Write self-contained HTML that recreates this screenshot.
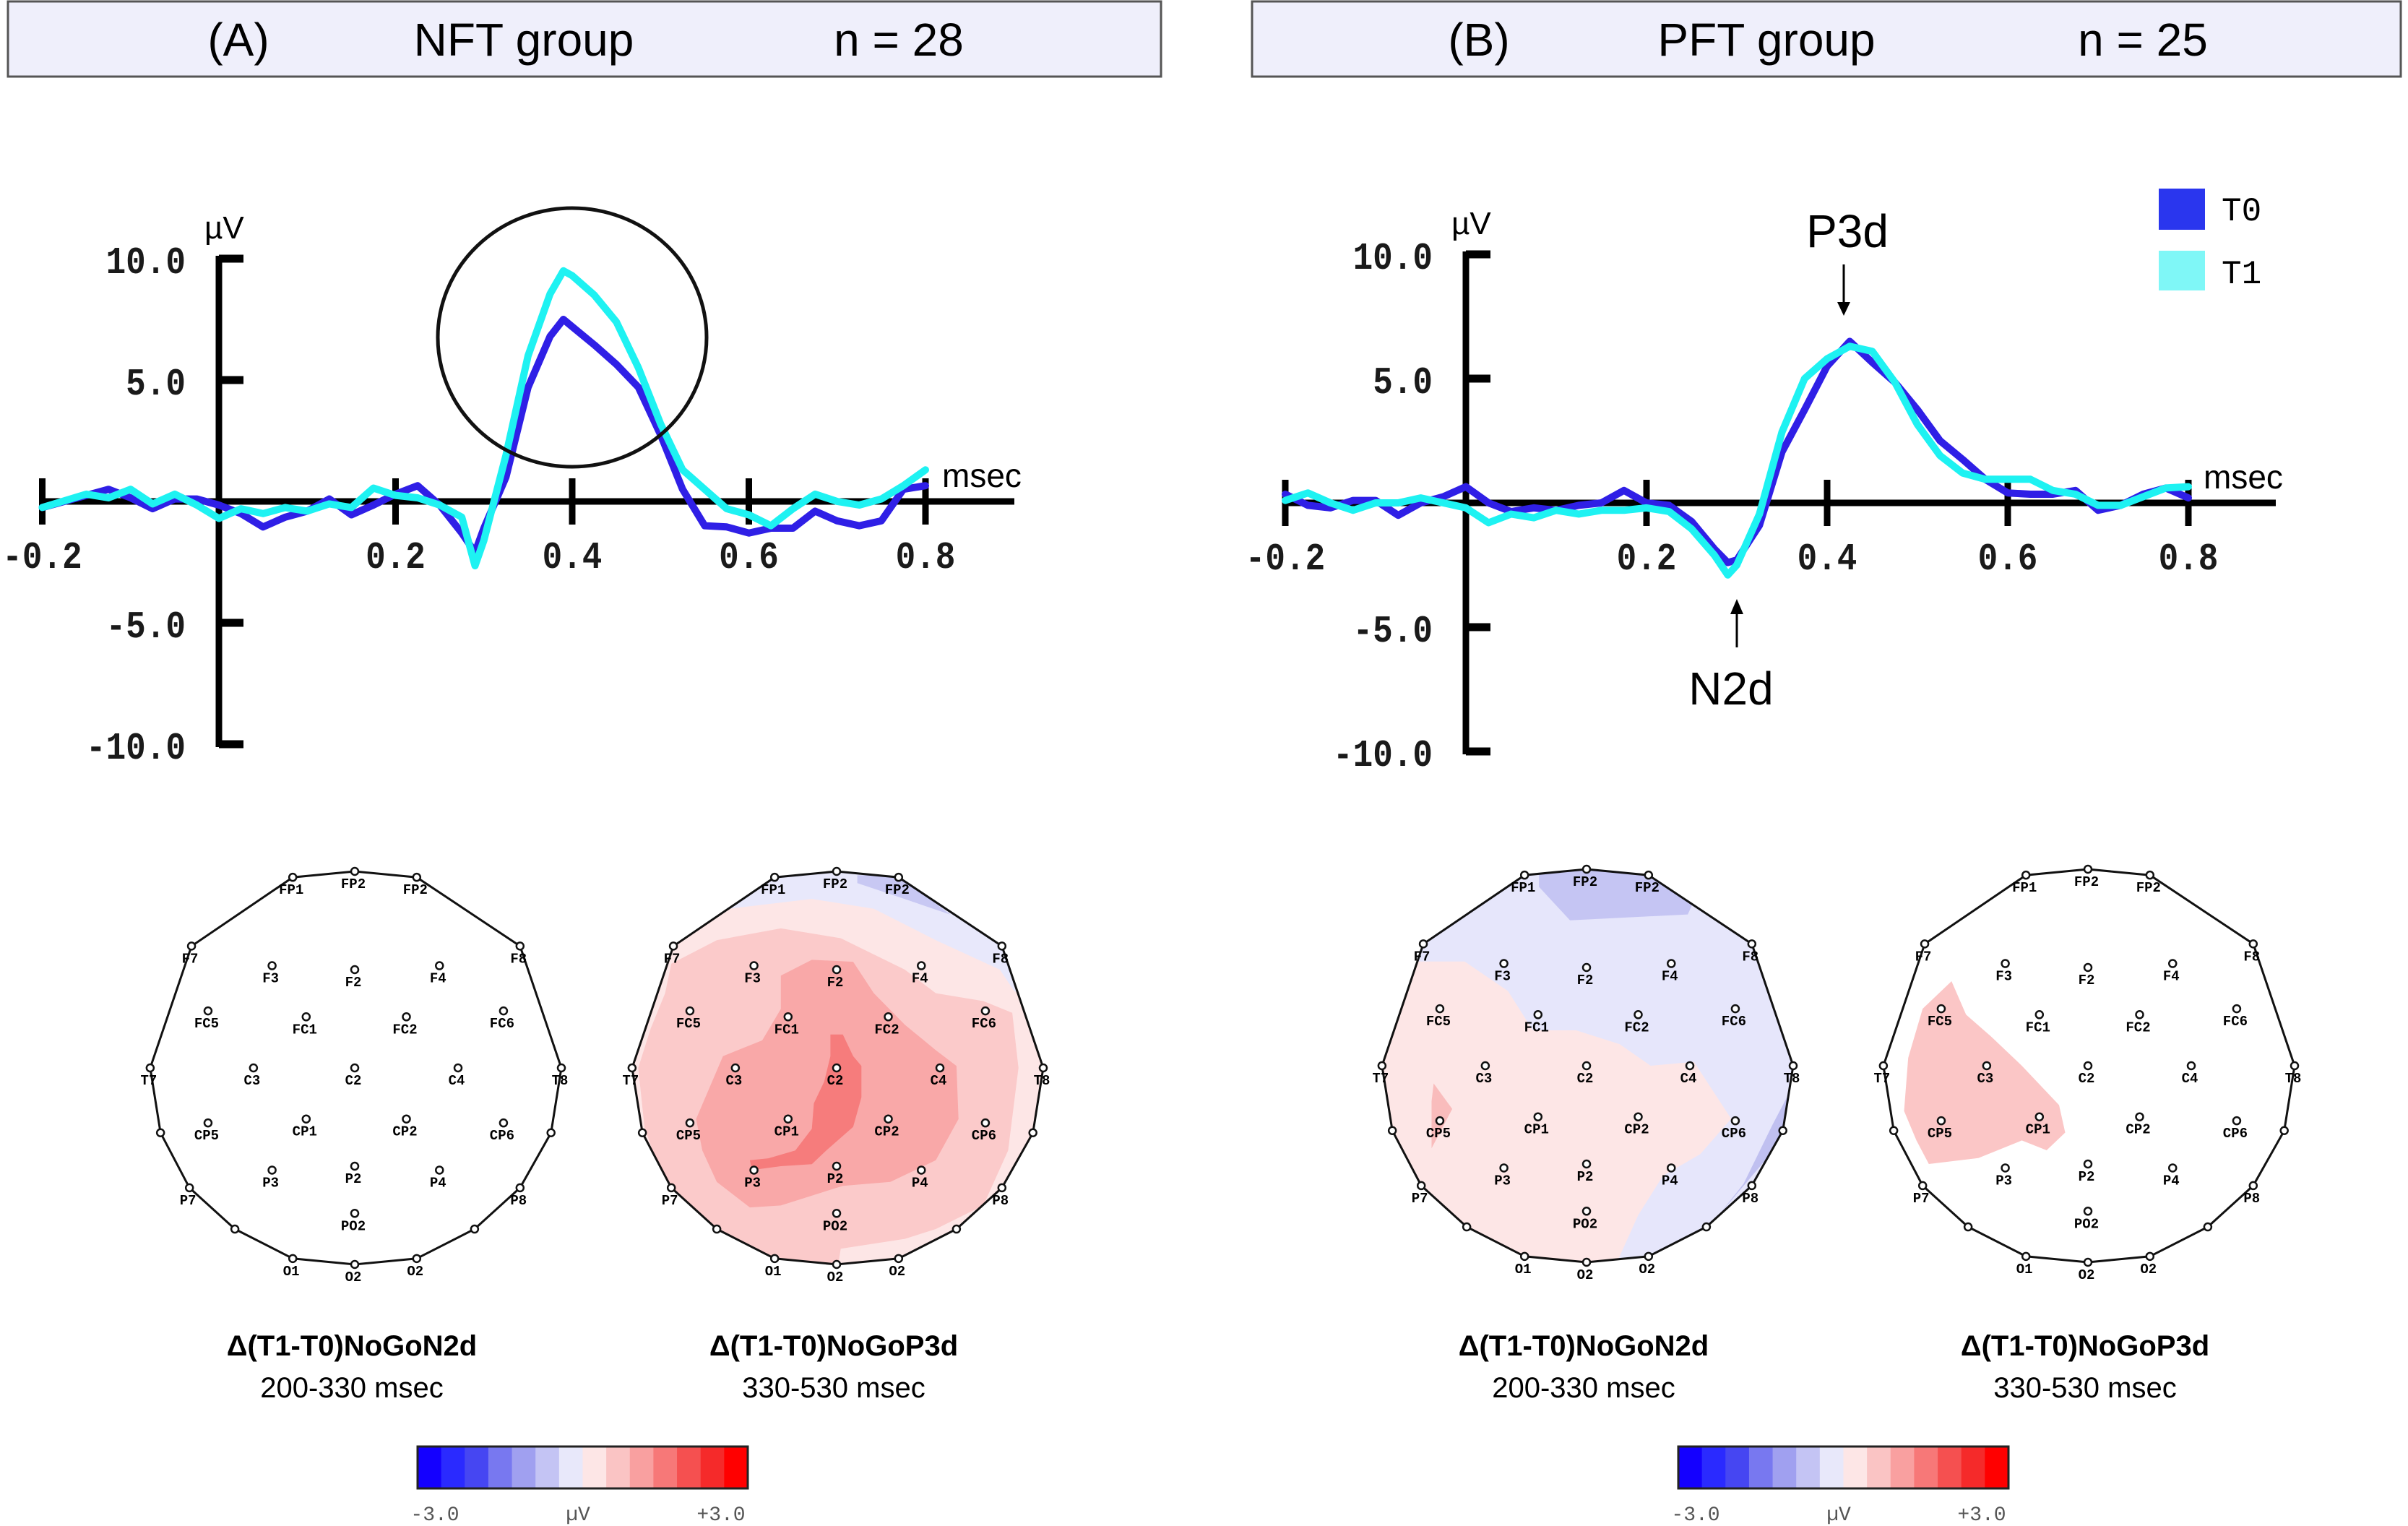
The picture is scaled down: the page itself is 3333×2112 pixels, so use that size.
<!DOCTYPE html>
<html><head><meta charset="utf-8"><style>
html,body{margin:0;padding:0;background:#fff;}
svg{display:block;}
text{font-family:"Liberation Sans",sans-serif;}
.mono{font-family:"Liberation Mono",monospace;}
</style></head><body>
<svg id="fig" width="3333" height="2112" viewBox="0 0 3333 2112" xmlns="http://www.w3.org/2000/svg">
  <g>
    <rect x="11" y="2" width="1596" height="104" fill="#efeffb" stroke="#555" stroke-width="3"/>
    <text x="330" y="77" font-size="64" text-anchor="middle">(A)</text>
    <text x="725" y="77" font-size="64" text-anchor="middle">NFT group</text>
    <text x="1244" y="77" font-size="64" text-anchor="middle">n = 28</text>
  </g>
  <g>
    <rect x="1733" y="2" width="1590" height="104" fill="#efeffb" stroke="#555" stroke-width="3"/>
    <text x="2047" y="77" font-size="64" text-anchor="middle">(B)</text>
    <text x="2445" y="77" font-size="64" text-anchor="middle">PFT group</text>
    <text x="2966" y="77" font-size="64" text-anchor="middle">n = 25</text>
  </g>
  <g id="chartA"></g>
  <g id="chartB"></g>
  <ellipse cx="792" cy="467" rx="186" ry="179" fill="none" stroke="#111" stroke-width="5"/>
  <g>
    <rect x="2988" y="261" width="64" height="57" fill="#2a36ee"/>
    <text x="3075" y="305" font-size="46" class="mono">T0</text>
    <rect x="2988" y="347" width="64" height="55" fill="#7ff7f7"/>
    <text x="3075" y="392" font-size="46" class="mono">T1</text>
  </g>
  <g>
    <text x="2557" y="342" font-size="64" text-anchor="middle">P3d</text>
    <line x1="2552" y1="366" x2="2552" y2="425" stroke="#000" stroke-width="3"/>
    <polygon points="2543,418 2561,418 2552,437" fill="#000"/>
  </g>
  <g>
    <line x1="2404" y1="845" x2="2404" y2="896" stroke="#000" stroke-width="3"/>
    <polygon points="2395,850 2413,850 2404,829" fill="#000"/>
    <text x="2396" y="975" font-size="64" text-anchor="middle">N2d</text>
  </g>
  <g id="maps"></g>
  <g id="bars"></g>
</svg>
<script>
const NS="http://www.w3.org/2000/svg";
// ---- chart data ----
const timesA=[-0.2,-0.15,-0.125,-0.1,-0.075,-0.05,-0.025,0,0.025,0.05,0.075,0.1,0.125,0.15,0.175,0.2,0.225,0.25,0.275,0.29,0.3,0.325,0.35,0.375,0.39,0.4,0.425,0.45,0.475,0.5,0.525,0.55,0.575,0.6,0.625,0.65,0.675,0.7,0.725,0.75,0.775,0.8];
const nftT0=[-0.25,0.25,0.5,0.15,-0.3,0.1,0.1,-0.15,-0.5,-1.05,-0.65,-0.4,0.1,-0.55,-0.15,0.3,0.65,-0.15,-1.3,-2.1,-1.1,1.0,4.7,6.8,7.5,7.2,6.45,5.65,4.7,2.75,0.5,-1.0,-1.05,-1.3,-1.1,-1.1,-0.4,-0.8,-1.0,-0.8,0.5,0.65];
const nftT1=[-0.25,0.3,0.15,0.5,-0.1,0.3,-0.15,-0.7,-0.3,-0.5,-0.25,-0.4,-0.1,-0.25,0.55,0.25,0.15,-0.15,-0.65,-2.65,-1.6,1.9,6.0,8.55,9.5,9.3,8.5,7.4,5.5,3.2,1.3,0.5,-0.3,-0.55,-1.0,-0.3,0.3,0,-0.15,0.1,0.65,1.3];
const timesB=[-0.2,-0.175,-0.15,-0.125,-0.1,-0.075,-0.05,-0.025,0,0.025,0.05,0.075,0.1,0.125,0.15,0.175,0.2,0.225,0.25,0.275,0.29,0.3,0.325,0.35,0.375,0.4,0.425,0.45,0.475,0.5,0.525,0.55,0.575,0.6,0.625,0.65,0.675,0.7,0.725,0.75,0.775,0.8];
const pftT0=[0.35,-0.1,-0.2,0.1,0.1,-0.5,0,0.25,0.65,0,-0.35,-0.2,-0.3,-0.1,0,0.5,0,-0.1,-0.75,-1.85,-2.4,-2.3,-0.9,2.05,3.75,5.5,6.5,5.65,4.85,3.75,2.5,1.75,0.95,0.4,0.35,0.35,0.5,-0.3,-0.1,0.35,0.6,0.2];
const pftT1=[0.1,0.4,0,-0.3,0,0,0.2,0,-0.2,-0.8,-0.45,-0.6,-0.3,-0.45,-0.3,-0.3,-0.2,-0.35,-1.05,-2.1,-2.9,-2.5,-0.45,2.85,5.0,5.8,6.3,6.1,4.85,3.15,1.9,1.2,0.95,0.95,0.95,0.5,0.35,-0.1,-0.1,0.25,0.6,0.65];
const yTicks=[10,5,-5,-10];
const yTickLabels=["10.0","5.0","-5.0","-10.0"];
const xTicks=[-0.2,0.2,0.4,0.6,0.8];
const xTickLabels=["-0.2","0.2","0.4","0.6","0.8"];

function el(tag,attrs,parent,txt){const e=document.createElementNS(NS,tag);for(const k in attrs)e.setAttribute(k,attrs[k]);if(txt!==undefined)e.textContent=txt;parent.appendChild(e);return e;}

function drawChart(g,cfg,times,s0,s1){
  const X=t=>cfg.x0+t*cfg.pps, Y=v=>cfg.y0-v*cfg.ppu;
  const ax=el('line',{x1:X(-0.2),y1:Y(0),x2:cfg.xEnd,y2:Y(0),stroke:'#000','stroke-width':9},g);
  
  
  const ay=el('line',{x1:X(0),y1:Y(10)-4,x2:X(0),y2:Y(-10)+4,stroke:'#000','stroke-width':9},g);
  
  
  yTicks.forEach((v,i)=>{
    const tk=el('line',{x1:X(0),y1:Y(v),x2:X(0)+34,y2:Y(v),stroke:'#000','stroke-width':11},g);
    
    
    const ly=Y(v)+20;
    const tl=el('text',{x:X(0)-46,y:ly,'font-size':46,'font-weight':'bold','text-anchor':'end',class:'mono',fill:'#1a1a1a',transform:`translate(0 ${ly}) scale(1 1.15) translate(0 ${-ly})`},g,yTickLabels[i]);
    
    
  });
  xTicks.forEach((t,i)=>{
    const tk=el('line',{x1:X(t),y1:Y(0)-32,x2:X(t),y2:Y(0)+32,stroke:'#000','stroke-width':9},g);
    
    
    const ly=Y(0)+92;
    const tl=el('text',{x:X(t),y:ly,'font-size':46,'font-weight':'bold','text-anchor':'middle',class:'mono',fill:'#1a1a1a',transform:`translate(0 ${ly}) scale(1 1.15) translate(0 ${-ly})`},g,xTickLabels[i]);
    
    
  });
  const u=el('text',{x:X(0)-20,y:Y(10)-28,'font-size':44},g,'µV');
  
  
  const m=el('text',{x:cfg.msecX,y:Y(0)-20,'font-size':46},g,'msec');
  
  
  [[s0,'#2f1fe6','series-t0'],[s1,'#1ef2f2','series-t1']].forEach(([s,c,n])=>{
    const pts=times.map((t,i)=>X(t).toFixed(1)+','+Y(s[i]).toFixed(1)).join(' ');
    const p=el('polyline',{points:pts,fill:'none',stroke:c,'stroke-width':10,'stroke-linejoin':'round','stroke-linecap':'round'},g);
    
    
  });
}
drawChart(document.getElementById('chartA'),{x0:303,pps:1222.5,y0:694,ppu:33.6,xEnd:1404,msecX:1304},timesA,nftT0,nftT1);
drawChart(document.getElementById('chartB'),{x0:2029,pps:1250,y0:696,ppu:34.4,xEnd:3150,msecX:3050},timesB,pftT0,pftT1);

// ---- topomaps ----
const outline=[[0,-1],[0.3,-0.97],[0.8,-0.62],[1,0],[0.95,0.33],[0.8,0.61],[0.58,0.82],[0.3,0.97],[0,1],[-0.3,0.97],[-0.58,0.82],[-0.8,0.61],[-0.94,0.33],[-0.99,0],[-0.79,-0.62],[-0.3,-0.97]];
const rimLabels=[['FP2',0,-1],['FP2',0.3,-0.97],['F8',0.8,-0.62],['T8',1,0],['',0.95,0.33],['P8',0.8,0.61],['',0.58,0.82],['O2',0.3,0.97],['O2',0,1],['O1',-0.3,0.97],['',-0.58,0.82],['P7',-0.8,0.61],['',-0.94,0.33],['T7',-0.99,0],['F7',-0.79,-0.62],['FP1',-0.3,-0.97]];
const inner=[['F3',-0.4,-0.52],['F2',0,-0.5],['F4',0.41,-0.52],['FC5',-0.71,-0.29],['FC1',-0.235,-0.26],['FC2',0.25,-0.26],['FC6',0.72,-0.29],['C3',-0.49,0],['C2',0,0],['C4',0.5,0],['CP5',-0.71,0.28],['CP1',-0.235,0.26],['CP2',0.25,0.26],['CP6',0.72,0.28],['P3',-0.4,0.52],['P2',0,0.5],['P4',0.41,0.52],['PO2',0,0.74]];
const maps=[
 {cx:491,cy:1478,name:'topomap-nft-n2d',base:'#ffffff',regions:[],cap:'Δ(T1-T0)NoGoN2d',sub:'200-330 msec'},
 {cx:1158,cy:1478,name:'topomap-nft-p3d',base:'#fde6e6',cap:'Δ(T1-T0)NoGoP3d',sub:'330-530 msec',regions:[
  ['#e8e8fb',[[-1.2,-0.7],[-0.52,-0.81],[-0.12,-0.86],[0.18,-0.81],[0.48,-0.65],[0.79,-0.5],[0.86,-0.39],[1.2,-0.3],[1.2,-1.2],[-1.2,-1.2]]],
  ['#c8c8f3',[[0.1,-0.98],[0.3,-0.98],[0.55,-0.78],[0.3,-0.87],[0.1,-0.94]]],
  ['#fbcaca',[[-0.83,-0.38],[-0.8,-0.53],[-0.58,-0.65],[-0.27,-0.71],[0.02,-0.66],[0.33,-0.5],[0.48,-0.38],[0.71,-0.34],[0.85,-0.28],[0.88,0],[0.83,0.42],[0.71,0.7],[0.48,0.82],[0.33,0.87],[0.02,0.92],[0,1.05],[-0.5,1],[-0.8,0.7],[-0.93,0.3],[-0.96,0],[-0.9,-0.2]]],
  ['#f9a8a8',[[-0.27,-0.47],[-0.12,-0.55],[0.08,-0.54],[0.18,-0.38],[0.33,-0.22],[0.48,-0.09],[0.58,-0.01],[0.59,0.26],[0.48,0.47],[0.26,0.58],[0.03,0.6],[-0.27,0.7],[-0.42,0.71],[-0.58,0.58],[-0.65,0.42],[-0.68,0.26],[-0.55,-0.06],[-0.36,-0.14],[-0.27,-0.3]]],
  ['#f67c7c',[[-0.03,-0.17],[0.03,-0.17],[0.08,-0.06],[0.12,-0.01],[0.12,0.15],[0.08,0.3],[-0.05,0.42],[-0.12,0.49],[-0.27,0.5],[-0.41,0.52],[-0.42,0.47],[-0.33,0.46],[-0.2,0.42],[-0.12,0.31],[-0.11,0.18],[-0.06,0.07],[-0.03,-0.06]]]]},
 {cx:2196,cy:1475,name:'topomap-pft-n2d',base:'#e6e6fb',cap:'Δ(T1-T0)NoGoN2d',sub:'200-330 msec',regions:[
  ['#fde6e6',[[-0.8,-0.53],[-0.59,-0.53],[-0.38,-0.38],[-0.26,-0.18],[-0.05,-0.18],[0.16,-0.11],[0.31,0],[0.52,-0.02],[0.7,0.27],[0.55,0.45],[0.37,0.56],[0.25,0.76],[0.16,0.97],[0.1,1.1],[-1.1,1.1],[-1.1,-0.53]]],
  ['#c5c5f3',[[-0.23,-0.91],[-0.08,-0.74],[0.49,-0.77],[0.52,-0.84],[0.31,-0.98],[-0.05,-1.05],[-0.23,-1.0]]],
  ['#c0c0f0',[[1.0,0.1],[0.93,0.4],[0.64,0.76],[0.76,0.6],[0.9,0.3]]],
  ['#f9bcbc',[[-0.74,0.09],[-0.65,0.22],[-0.75,0.42],[-0.75,0.18]]]]},
 {cx:2890,cy:1475,name:'topomap-pft-p3d',base:'#ffffff',cap:'Δ(T1-T0)NoGoP3d',sub:'330-530 msec',regions:[
  ['#fbc6c6',[[-0.66,-0.43],[-0.59,-0.26],[-0.47,-0.15],[-0.32,0],[-0.14,0.2],[-0.11,0.34],[-0.2,0.43],[-0.32,0.38],[-0.53,0.47],[-0.77,0.5],[-0.83,0.38],[-0.89,0.23],[-0.87,-0.04],[-0.8,-0.29]]]]}
];
const RX=286,RY=272;
const mg=document.getElementById('maps');
maps.forEach((m,mi)=>{
  const P=([x,y])=>(m.cx+x*RX).toFixed(1)+','+(m.cy+y*RY).toFixed(1);
  const g=el('g',{},mg);
  
  
  const cp=el('clipPath',{id:'clip'+mi},g);
  el('polygon',{points:outline.map(P).join(' ')},cp);
  el('polygon',{points:outline.map(P).join(' '),fill:m.base},g);
  m.regions.forEach(([c,pts])=>{
    const r=el('polygon',{points:pts.map(P).join(' '),fill:c,'clip-path':'url(#clip'+mi+')'},g);
    
    
  });
  el('polygon',{points:outline.map(P).join(' '),fill:'none',stroke:'#111','stroke-width':3},g);
  rimLabels.concat(inner).forEach(([lab,x,y])=>{
    const px=m.cx+x*RX,py=m.cy+y*RY;
    const c=el('circle',{cx:px,cy:py,r:5,fill:'#fff',stroke:'#111','stroke-width':2.5},g);
    
    
    if(lab){const t=el('text',{x:px-2,y:py+23,'font-size':19,'font-weight':'bold','text-anchor':'middle',class:'mono'},g,lab);
      
      }
  });
  const c1=el('text',{x:m.cx-4,y:1876,'font-size':40,'font-weight':'bold','text-anchor':'middle'},g,m.cap);
  
  
  const c2=el('text',{x:m.cx-4,y:1934,'font-size':40,'text-anchor':'middle'},g,m.sub);
  
  
});

// ---- colorbars ----
const barColors=['#1400ff','#2a2aff','#4646f2','#7878f0','#a0a0f0','#c4c4f4','#e8e8fa','#fde6e6','#fac4c4','#f9a0a0','#f77878','#f55050','#f52a2a','#ff0000'];
const bg=document.getElementById('bars');
[[578,'colorbar-nft'],[2323,'colorbar-pft']].forEach(([x0,n])=>{
  const g=el('g',{},bg);
  
  
  const w=457/barColors.length;
  barColors.forEach((c,i)=>el('rect',{x:x0+i*w,y:2002,width:w+0.5,height:58,fill:c},g));
  el('rect',{x:x0,y:2002,width:457,height:58,fill:'none',stroke:'#222','stroke-width':3},g);
  el('text',{x:x0+24,y:2104,'font-size':28,'text-anchor':'middle',class:'mono',fill:'#555'},g,'-3.0');
  el('text',{x:x0+222,y:2104,'font-size':28,'text-anchor':'middle',class:'mono',fill:'#555'},g,'µV');
  el('text',{x:x0+420,y:2104,'font-size':28,'text-anchor':'middle',class:'mono',fill:'#555'},g,'+3.0');
});
</script>
</body></html>
